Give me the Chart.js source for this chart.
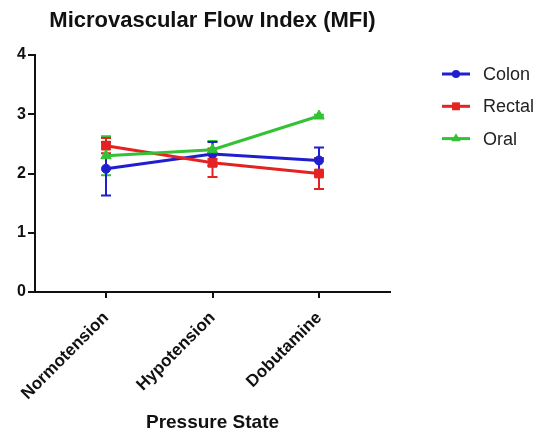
<!DOCTYPE html>
<html><head><meta charset="utf-8">
<script src="https://cdn.jsdelivr.net/npm/chart.js@4"></script>
<style>html,body{margin:0;padding:0;background:#fff}#wrap{width:537px;height:437px}</style>
</head><body><div id="wrap"><canvas id="c" width="537" height="437"></canvas></div>
<script>
const categories = ['Normotension', 'Hypotension', 'Dobutamine'];
const seriesNames = ['Colon', 'Rectal', 'Oral'];
const colonMean = [2.08, 2.33, 2.22];
const colonErr = [0.45, 0.20, 0.22];
const rectalMean = [2.47, 2.18, 2.00];
const rectalErr = [0.13, 0.24, 0.26];
const oralMean = [2.30, 2.40, 2.97];
const oralErr = [0.33, 0.15, 0.02];
const yTicks = [0, 1, 2, 3, 4];
const chartTitle = 'Microvascular Flow Index (MFI)';
const xTitle = 'Pressure State';

const colors = ['#1f1fd0', '#e52222', '#33c233'];
const styles = ['circle', 'rect', 'triangle'];
const radii = [4.5, 6.2, 6];
const means = [colonMean, rectalMean, oralMean];
const errs = [colonErr, rectalErr, oralErr];
const FONT = "'Liberation Sans', Arial, sans-serif";

const datasets = seriesNames.map((name, s) => ({
  label: name,
  data: means[s].map((v, i) => ({x: i, y: v})),
  errors: errs[s],
  borderColor: colors[s],
  backgroundColor: colors[s],
  borderWidth: 3,
  pointStyle: styles[s],
  pointRadius: radii[s],
  pointBorderWidth: 1,
  pointBackgroundColor: colors[s],
  pointBorderColor: colors[s],
  tension: 0,
  order: 3 - s
}));

const errorBars = {
  id: 'errorBars',
  beforeDatasetsDraw(chart) {
    const ctx = chart.ctx, xs = chart.scales.x, ys = chart.scales.y;
    ctx.save();
    for (let s = chart.data.datasets.length - 1; s >= 0; s--) {
      const ds = chart.data.datasets[s];
      ctx.strokeStyle = ds.borderColor;
      ctx.lineWidth = 2;
      ds.data.forEach((p, i) => {
        const e = ds.errors[i];
        const x = xs.getPixelForValue(p.x);
        const y1 = ys.getPixelForValue(p.y + e);
        const y2 = ys.getPixelForValue(p.y - e);
        ctx.beginPath();
        ctx.moveTo(x, y1); ctx.lineTo(x, y2);
        ctx.moveTo(x - 5, y1); ctx.lineTo(x + 5, y1);
        ctx.moveTo(x - 5, y2); ctx.lineTo(x + 5, y2);
        ctx.stroke();
      });
    }
    ctx.restore();
  }
};

function drawMarker(ctx, style, x, y, r) {
  ctx.beginPath();
  if (style === 'circle') {
    ctx.arc(x, y, r, 0, Math.PI * 2);
  } else if (style === 'rect') {
    const h = r * Math.SQRT1_2;
    ctx.rect(x - h, y - h, 2 * h, 2 * h);
  } else {
    ctx.moveTo(x, y - r);
    ctx.lineTo(x + r * 0.866, y + r * 0.5);
    ctx.lineTo(x - r * 0.866, y + r * 0.5);
    ctx.closePath();
  }
  ctx.fill();
}

const customLegend = {
  id: 'customLegend',
  afterDraw(chart) {
    const ctx = chart.ctx;
    ctx.save();
    chart.data.datasets.forEach((ds, s) => {
      const y = 74 + s * 32.3;
      ctx.strokeStyle = ds.borderColor;
      ctx.fillStyle = ds.borderColor;
      ctx.lineWidth = 3;
      ctx.beginPath();
      ctx.moveTo(442, y); ctx.lineTo(470, y);
      ctx.stroke();
      drawMarker(ctx, ds.pointStyle, 456, y, ds.pointRadius * 0.9);
      ctx.fillStyle = '#222';
      ctx.font = '18px ' + FONT;
      ctx.textAlign = 'left';
      ctx.textBaseline = 'middle';
      ctx.fillText(ds.label, 483, y + 1);
    });
    ctx.restore();
  }
};

new Chart(document.getElementById('c'), {
  type: 'line',
  data: { datasets },
  plugins: [errorBars, customLegend],
  options: {
    responsive: false,
    devicePixelRatio: 1,
    animation: false,
    layout: { padding: { left: 0, right: 147, top: 0, bottom: 0 } },
    plugins: {
      legend: { display: false },
      tooltip: { enabled: false },
      title: {
        display: true,
        text: chartTitle,
        fullSize: false,
        color: '#111',
        font: { family: FONT, size: 22, weight: 'bold' },
        padding: { top: 8, bottom: 20.6 }
      }
    },
    scales: {
      x: {
        type: 'linear',
        min: -2 / 3,
        max: 8 / 3,
        afterBuildTicks(scale) { scale.ticks = categories.map((c, i) => ({value: i})); },
        afterFit(scale) { scale.height = 145; },
        border: { display: true, color: '#111', width: 2 },
        grid: { display: true, drawOnChartArea: false, drawTicks: true, tickLength: 6, color: '#111', lineWidth: 2 },
        ticks: {
          color: '#111',
          minRotation: 45,
          maxRotation: 45,
          autoSkip: false,
          padding: 10,
          font: { family: FONT, size: 17, weight: 'bold' },
          callback: (v) => categories[Math.round(v)]
        },
        title: {
          display: true,
          text: xTitle,
          color: '#111',
          font: { family: FONT, size: 19, weight: 'bold' },
          padding: { top: 0, bottom: 3 }
        }
      },
      y: {
        min: 0,
        max: 4,
        afterBuildTicks(scale) { scale.ticks = yTicks.map(v => ({value: v})); },
        afterFit(scale) { scale.width = 35; },
        border: { display: true, color: '#111', width: 2 },
        grid: { display: true, drawOnChartArea: false, drawTicks: true, tickLength: 7, color: '#111', lineWidth: 2 },
        ticks: {
          color: '#111',
          padding: 2,
          font: { family: FONT, size: 16, weight: 'bold' }
        }
      }
    }
  }
});
</script>
</body></html>
